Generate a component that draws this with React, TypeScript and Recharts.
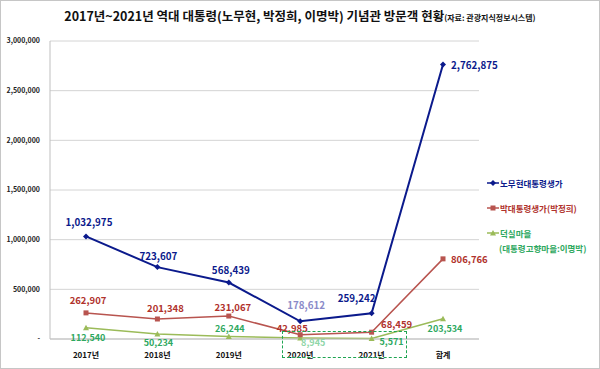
import React from 'react'
import { LineChart, Line, XAxis, YAxis, CartesianGrid, LabelList } from 'recharts'

// 2017~2021 presidential memorial visitors
const categories = ['2017년', '2018년', '2019년', '2020년', '2021년', '합계']
const rohVisitors = [1032975, 723607, 568439, 178612, 259242, 2762875]
const parkVisitors = [262907, 201348, 231067, 42985, 68459, 806766]
const leeVisitors = [112540, 50234, 26244, 8945, 5571, 203534]
const yTicks = [0, 500000, 1000000, 1500000, 2000000, 2500000, 3000000]

const FONT = "'Noto Sans CJK KR', 'Noto Sans', sans-serif"
const BLUE = '#0b1a8c'
const RED_LINE = '#b8544f'
const RED_TEXT = '#b0322c'
const GREEN_LINE = '#9bbb59'
const GREEN_TEXT = '#2ea860'

type LabelSpot = [number, number, 'start' | 'middle' | 'end', string?]

// label placement relative to each point (dx, dy, anchor, optional colour override)
const rohLabels: LabelSpot[] = [
  [3, -14, 'middle'],
  [1, -11, 'middle'],
  [2, -13, 'middle'],
  [6, -16, 'middle', '#8b8bc9'],
  [-15, -15, 'middle'],
  [8, 0, 'start'],
]
const parkLabels: LabelSpot[] = [
  [2, -13, 'middle'],
  [8, -11, 'middle'],
  [4, -9, 'middle'],
  [-8, -7, 'middle'],
  [25, -8, 'middle'],
  [8, 0, 'start'],
]
const leeLabels: LabelSpot[] = [
  [2, 10, 'middle'],
  [1, 8, 'middle'],
  [1, -8, 'middle'],
  [13, 4, 'middle', '#8fd6a8'],
  [20, 3, 'middle'],
  [2, 10, 'middle'],
]

const data = categories.map((name, i) => ({
  name,
  roh: rohVisitors[i],
  park: parkVisitors[i],
  lee: leeVisitors[i],
}))

const fmt = (v: number) => (v === 0 ? '-' : v.toLocaleString('en-US'))

const makeLabel = (spots: LabelSpot[], color: string, size: number) => (props: any) => {
  const { x, y, value, index } = props
  const [dx, dy, anchor, override] = spots[index]
  return (
    <text
      x={x + dx}
      y={y + dy}
      textAnchor={anchor}
      dominantBaseline="central"
      fill={override || color}
      fontSize={size}
      fontWeight="bold"
      fontFamily={FONT}
    >
      {fmt(value)}
    </text>
  )
}

const Diamond = ({ cx, cy, color }: any) => (
  <path d={`M${cx},${cy - 3}L${cx + 3},${cy}L${cx},${cy + 3}L${cx - 3},${cy}Z`} fill={color} />
)
const Square = ({ cx, cy, color }: any) => <rect x={cx - 2.5} y={cy - 2.5} width={5} height={5} fill={color} />
const Triangle = ({ cx, cy, color }: any) => (
  <path d={`M${cx},${cy - 3}L${cx + 3},${cy + 2.5}L${cx - 3},${cy + 2.5}Z`} fill={color} />
)

const legendItems = [
  { label: '노무현대통령생가', color: BLUE, text: BLUE, Marker: Diamond, sub: '' },
  { label: '박대통령생가(박정희)', color: RED_LINE, text: RED_TEXT, Marker: Square, sub: '' },
  { label: '덕실마을', color: GREEN_LINE, text: GREEN_TEXT, Marker: Triangle, sub: '(대통령고향마을:이명박)' },
]

const ChartLegend = () => (
  <div
    style={{
      position: 'absolute',
      left: 487,
      top: 176,
      width: 112,
      fontFamily: FONT,
      fontWeight: 'bold',
      fontSize: 8.5,
    }}
  >
    {legendItems.map((it) => (
      <div key={it.label} style={{ marginBottom: 11 }}>
        <div style={{ display: 'flex', alignItems: 'center', height: 14 }}>
          <svg width={12} height={8} style={{ marginRight: 1 }}>
            <line x1={0} y1={4} x2={12} y2={4} stroke={it.color} strokeWidth={1.5} />
            <it.Marker cx={6} cy={4} color={it.color} />
          </svg>
          <span style={{ color: it.text }}>{it.label}</span>
        </div>
        {it.sub && <div style={{ color: it.text, paddingLeft: 12, marginTop: 2 }}>{it.sub}</div>}
      </div>
    ))}
  </div>
)

export default function App() {
  return (
    <div style={{ position: 'absolute', left: 0, top: 0, width: 600, height: 369, background: '#fff' }}>
      <div
        style={{
          position: 'absolute',
          top: 6,
          left: 0,
          width: 600,
          textAlign: 'center',
          fontFamily: FONT,
          fontWeight: 'bold',
          fontSize: 12.5,
          color: '#111',
          whiteSpace: 'nowrap',
        }}
      >
        2017년~2021년 역대 대통령(노무현, 박정희, 이명박) 기념관 방문객 현황
        <span style={{ fontSize: 8 }}>(자료: 관광지식정보시스템)</span>
      </div>
      <LineChart
        width={600}
        height={369}
        data={data}
        margin={{ top: 41, right: 121, left: 0, bottom: 0 }}
        style={{ position: 'absolute', left: 0, top: 0 }}
      >
        <CartesianGrid vertical={false} stroke="#d4d4d4" />
        <XAxis
          dataKey="name"
          height={30}
          padding={{ left: 36, right: 36 }}
          axisLine={{ stroke: '#bfbfbf' }}
          tickLine={false}
          tickMargin={7}
          tick={{ fontSize: 8, fontWeight: 'bold', fill: '#111', fontFamily: FONT }}
        />
        <YAxis
          width={50}
          domain={[0, 3000000]}
          ticks={yTicks}
          tickFormatter={fmt}
          axisLine={{ stroke: '#bfbfbf' }}
          tickLine={false}
          tickMargin={4}
          tick={{ fontSize: 7, fontWeight: 'bold', fill: '#222', fontFamily: FONT }}
        />
        <Line
          dataKey="lee"
          stroke={GREEN_LINE}
          strokeWidth={1.5}
          isAnimationActive={false}
          dot={(p: any) => <Triangle key={p.index} cx={p.cx} cy={p.cy} color={GREEN_LINE} />}
          activeDot={false}
        >
          <LabelList dataKey="lee" content={makeLabel(leeLabels, GREEN_TEXT, 9)} />
        </Line>
        <Line
          dataKey="park"
          stroke={RED_LINE}
          strokeWidth={1.5}
          isAnimationActive={false}
          dot={(p: any) => <Square key={p.index} cx={p.cx} cy={p.cy} color={RED_LINE} />}
          activeDot={false}
        >
          <LabelList dataKey="park" content={makeLabel(parkLabels, RED_TEXT, 9.5)} />
        </Line>
        <Line
          dataKey="roh"
          stroke={BLUE}
          strokeWidth={2}
          isAnimationActive={false}
          dot={(p: any) => <Diamond key={p.index} cx={p.cx} cy={p.cy} color={BLUE} />}
          activeDot={false}
        >
          <LabelList dataKey="roh" content={makeLabel(rohLabels, BLUE, 9.8)} />
        </Line>
      </LineChart>
      <ChartLegend />
      <div
        style={{
          position: 'absolute',
          left: 282,
          top: 331,
          width: 125,
          height: 27,
          border: '1.5px dashed #1fa552',
          boxSizing: 'border-box',
          pointerEvents: 'none',
        }}
      />
      <div
        style={{
          position: 'absolute',
          inset: 0,
          border: '1px solid #c6c6c6',
          pointerEvents: 'none',
        }}
      />
    </div>
  )
}
